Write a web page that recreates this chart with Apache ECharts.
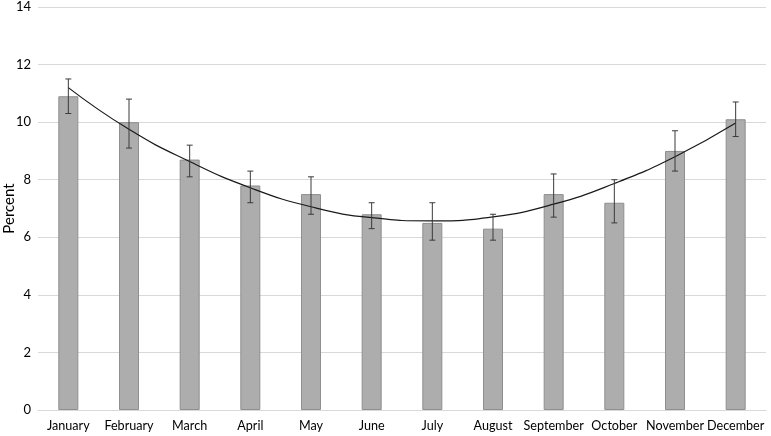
<!DOCTYPE html>
<html><head><meta charset="utf-8">
<script src="https://cdn.jsdelivr.net/npm/echarts@6/dist/echarts.min.js"></script>
<style>html,body{margin:0;padding:0;background:#fff}#c{width:771px;height:436px}</style>
</head><body><div id="c"></div>
<script>
const months = ["January","February","March","April","May","June","July","August","September","October","November","December"];
const values = [10.9, 10.0, 8.7, 7.8, 7.5, 6.8, 6.5, 6.3, 7.5, 7.2, 9.0, 10.1];
const errHigh = [11.5, 10.8, 9.2, 8.3, 8.1, 7.2, 7.2, 6.8, 8.2, 8.0, 9.7, 10.7];
const errLow = [10.3, 9.1, 8.1, 7.2, 6.8, 6.3, 5.9, 5.9, 6.7, 6.5, 8.3, 9.5];
const trend = [11.2, 9.75, 8.63, 7.72, 7.06, 6.68, 6.57, 6.71, 7.15, 7.87, 8.8, 9.97];
const yTicks = [0, 2, 4, 6, 8, 10, 12, 14];

const errData = months.map((m, i) => [i, errLow[i], errHigh[i]]);
const font = "Lato, 'Open Sans', sans-serif";

const chart = echarts.init(document.getElementById('c'), null, {renderer: 'canvas'});
chart.setOption({
  animation: false,
  grid: {left: 38, right: 5, top: 7, bottom: 26, containLabel: false, outerBoundsMode: 'none'},
  xAxis: {
    type: 'category', data: months,
    axisLine: {lineStyle: {color: '#d9d9d9', width: 1}},
    axisTick: {show: false},
    axisLabel: {color: '#000', fontSize: 12.6, fontFamily: font, margin: 9, interval: 0}
  },
  yAxis: {
    type: 'value', min: yTicks[0], max: yTicks[yTicks.length - 1], interval: 2,
    name: 'Percent', nameLocation: 'middle', nameGap: 21, nameRotate: 90, nameMoveOverlap: false,
    nameTextStyle: {color: '#000', fontSize: 15, fontFamily: font},
    axisLine: {show: false}, axisTick: {show: false},
    axisLabel: {color: '#000', fontSize: 13, fontFamily: font, margin: 7},
    splitLine: {lineStyle: {color: '#d9d9d9', width: 1}}
  },
  series: [
    {
      type: 'bar', data: values, barWidth: '33%',
      itemStyle: {color: '#adadad', borderColor: '#8f8f8f', borderWidth: 1},
      z: 2
    },
    {
      type: 'line', data: trend, smooth: 0.5, symbol: 'none',
      lineStyle: {color: '#1a1a1a', width: 1.2}, z: 4
    },
    {
      type: 'custom', data: errData, z: 5,
      renderItem: function (params, api) {
        const x = api.value(0);
        const lo = api.coord([x, api.value(1)]);
        const hi = api.coord([x, api.value(2)]);
        const hw = 3;
        const st = {stroke: '#3a3a3a', lineWidth: 1};
        return {
          type: 'group',
          children: [
            {type: 'line', shape: {x1: lo[0], y1: lo[1], x2: hi[0], y2: hi[1]}, style: st},
            {type: 'line', shape: {x1: hi[0] - hw, y1: hi[1], x2: hi[0] + hw, y2: hi[1]}, style: st},
            {type: 'line', shape: {x1: lo[0] - hw, y1: lo[1], x2: lo[0] + hw, y2: lo[1]}, style: st}
          ]
        };
      }
    }
  ]
});
</script></body></html>
